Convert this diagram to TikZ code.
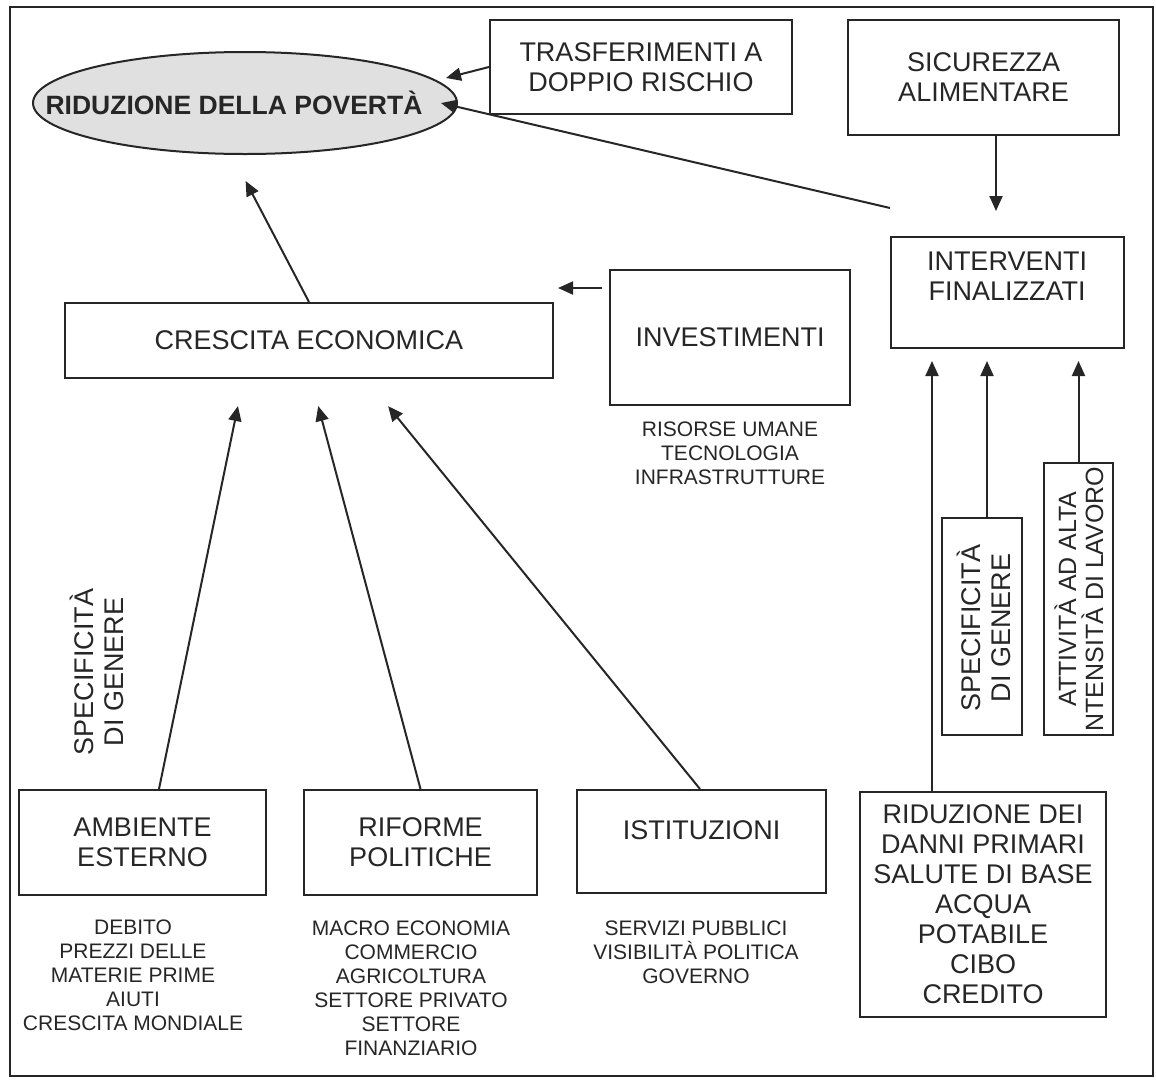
\documentclass[tikz,border=0pt]{standalone}
\usepackage{fontspec}
\setmainfont{Liberation Sans}
\usetikzlibrary{arrows.meta,shapes.geometric}

\begin{document}
\begin{tikzpicture}[x=1pt, y=-1pt, line width=2pt, color=black!85,
    box/.style = {draw, rectangle, inner sep=0pt},
    txt/.style = {align=center, font=\fontsize{27}{30}\selectfont},
    small/.style = {align=center, font=\fontsize{21}{24}\selectfont},
    arr/.style = {-{Triangle[length=15pt,width=13pt]}}]

    \useasboundingbox (0,0) rectangle (1156,1080);
    \draw (10,7) rectangle (1153,1076);

    % top row
    \node[ellipse, draw, fill=black!12, inner sep=0pt, minimum width=424, minimum height=102] (pov) at (245,103) {};
    \node[txt, font=\fontsize{26.5}{30}\selectfont\bfseries] (povt) at (234,103) {RIDUZIONE DELLA POVERTÀ};
    \node[box, txt, minimum width=302, minimum height=94] (trasf) at (641,67) {TRASFERIMENTI A\\DOPPIO RISCHIO};
    \node[box, txt, minimum width=271, minimum height=115] (sic) at (983.5,77.5) {SICUREZZA\\ALIMENTARE};
    \coordinate (fin) at (890,208);

    % middle row
    \node[box, minimum width=233, minimum height=111] (interv) at (1007.5,292.5) {};
    \node[txt] (intervt) at (1007,276) {INTERVENTI\\FINALIZZATI};
    \node[box, txt, minimum width=488, minimum height=75] (cresc) at (309,340.5) {CRESCITA ECONOMICA};
    \node[box, txt, minimum width=240, minimum height=135] (invest) at (730,337.5) {INVESTIMENTI};
    \node[small] (investl) at (730,453.5) {RISORSE UMANE\\TECNOLOGIA\\INFRASTRUTTURE};

    % vertical boxes
    \node[box, minimum width=80, minimum height=217] (spec) at (982,626.5) {};
    \node[txt, rotate=90] (spect) at (984,628) {SPECIFICITÀ\\DI GENERE};
    \node[box, minimum width=69, minimum height=272] (att) at (1078.5,599) {};
    \node[txt, rotate=90, font=\fontsize{25}{27}\selectfont] (attt) at (1079,599) {ATTIVITÀ AD ALTA\\NTENSITÀ DI LAVORO};
    \node[txt, rotate=90] (specl) at (97,672) {SPECIFICITÀ\\DI GENERE};

    % bottom row
    \node[box, txt, minimum width=247, minimum height=105] (amb) at (142.5,842.5) {AMBIENTE\\ESTERNO};
    \node[box, txt, minimum width=233, minimum height=105] (rif) at (420.5,842.5) {RIFORME\\POLITICHE};
    \node[box, minimum width=249, minimum height=103] (ist) at (701.5,841.5) {};
    \node[txt] (istt) at (701.5,830) {ISTITUZIONI};
    \node[box, txt, minimum width=246, minimum height=225] (rid) at (983,904.5) {RIDUZIONE DEI\\DANNI PRIMARI\\SALUTE DI BASE\\ACQUA\\POTABILE\\CIBO\\CREDITO};
    \node[small] (ambl) at (133,975) {DEBITO\\PREZZI DELLE\\MATERIE PRIME\\AIUTI\\CRESCITA MONDIALE};
    \node[small] (rifl) at (411,988) {MACRO ECONOMIA\\COMMERCIO\\AGRICOLTURA\\SETTORE PRIVATO\\SETTORE\\FINANZIARIO};
    \node[small] (istl) at (696,952.5) {SERVIZI PUBBLICI\\VISIBILITÀ POLITICA\\GOVERNO};

    % arrows
    \draw[arr] (trasf.west) -- ([xshift=-12pt,yshift=25pt]pov.east);
    \draw[arr, shorten >=-17.5pt] (fin) -- ([yshift=-4pt]pov.east);
    \draw[arr, shorten >=25pt] ([xshift=12.5pt]sic.south) -- ([xshift=-11.5pt]interv.north);
    \draw[arr, shorten >=29.3pt] (cresc.north) -- ([xshift=-13pt]pov.south);
    \draw[arr, shorten <=7pt, shorten >=4pt] ([yshift=49.5pt]invest.west) -- ([yshift=52.5pt]cresc.east);
    \draw[arr, shorten >=27.6pt] ([xshift=16.5pt]amb.north) -- ([xshift=-65.5pt]cresc.south);
    \draw[arr, shorten >=28pt] (rif.north) -- ([xshift=2pt]cresc.south);
    \draw[arr, shorten >=35pt] ([xshift=-1.5pt]ist.north) -- ([xshift=57pt]cresc.south);
    \draw[arr, shorten >=12pt] ([xshift=-51pt]rid.north) -- ([xshift=-75.5pt]interv.south);
    \draw[arr, shorten >=12pt] ([xshift=5pt]spec.north) -- ([xshift=-20.5pt]interv.south);
    \draw[arr, shorten >=12pt] (att.north) -- ([xshift=71pt]interv.south);
\end{tikzpicture}
\end{document}
